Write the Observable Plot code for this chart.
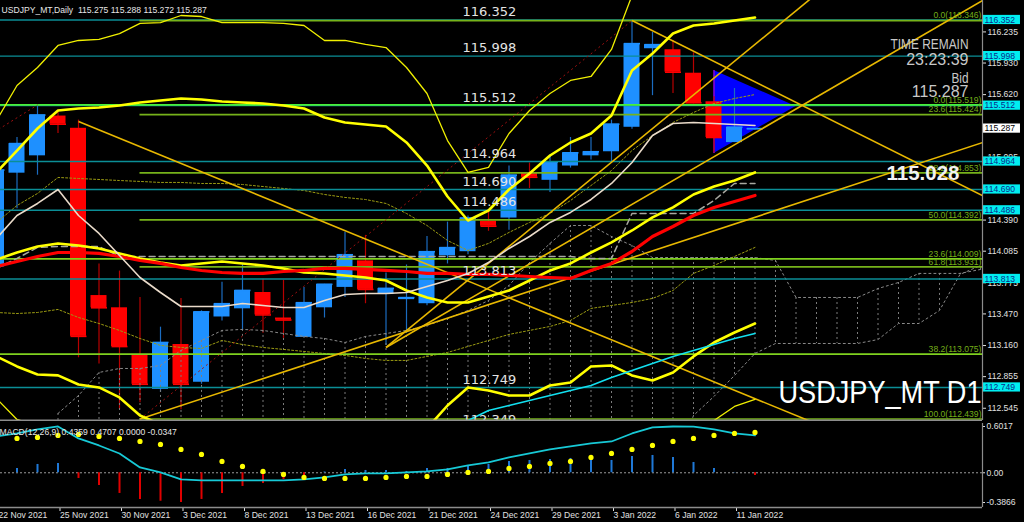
<!DOCTYPE html>
<html><head><meta charset="utf-8">
<script src="https://cdn.jsdelivr.net/npm/d3@7"></script>
<script src="https://cdn.jsdelivr.net/npm/@observablehq/plot@0.6"></script>
<style>
html,body{margin:0;padding:0;background:#000;width:1024px;height:522px;overflow:hidden;}
#wrap{position:relative;width:1024px;height:522px;background:#000;}
#wrap svg{position:absolute;left:0;display:block;}
</style></head><body><div id="wrap"></div>
<script>
// ---------- DATA ----------
const tickIdx = [0,3,6,9,12,15,18,21,24,27,30,33,36];
const tickLabels = ["22 Nov 2021","25 Nov 2021","30 Nov 2021","3 Dec 2021","8 Dec 2021","13 Dec 2021","16 Dec 2021","21 Dec 2021","24 Dec 2021","29 Dec 2021","3 Jan 2022","6 Jan 2022","11 Jan 2022"];

const open  = [113.93,114.85,115.02,115.41,115.29,113.65,113.53,113.07,112.73,113.17,112.80,113.44,113.52,113.68,113.43,113.24,113.53,113.73,113.99,113.66,113.61,113.57,114.04,114.08,114.38,114.41,114.85,114.78,114.92,115.02,115.06,115.30,116.07,116.06,115.83,115.55,115.15,115.275];
const high  = [114.95,115.20,115.51,115.46,115.37,113.96,113.89,113.63,113.34,113.62,113.50,113.78,113.96,113.81,113.80,113.73,113.76,114.27,114.24,113.87,113.95,114.23,114.37,114.43,114.49,114.92,114.95,115.03,115.20,115.20,115.37,116.35,116.23,116.15,116.03,115.60,115.68,115.288];
const low   = [113.85,114.50,114.83,115.24,113.04,112.98,112.53,112.60,112.70,112.53,112.78,113.40,113.31,113.28,113.23,113.24,113.43,113.63,113.57,113.16,113.28,113.55,113.96,114.05,114.28,114.29,114.70,114.66,114.90,114.98,114.96,115.28,115.61,115.63,115.53,115.05,115.15,115.272];
const close = [114.88,115.14,115.42,115.33,113.25,113.53,113.15,112.78,113.19,112.78,113.49,113.57,113.70,113.46,113.41,113.58,113.76,114.05,113.71,113.72,113.63,114.08,114.12,114.41,114.33,114.83,114.81,114.96,115.05,115.06,115.33,116.12,116.11,115.84,115.54,115.20,115.30,115.287];

// Bollinger (20,2)
const bbUpper = [114.857,115.072,115.288,115.465,115.484,115.494,115.514,115.543,115.563,115.582,115.572,115.553,115.543,115.533,115.514,115.484,115.396,115.347,115.327,115.308,115.151,114.925,114.621,114.386,114.484,114.690,114.847,115.023,115.151,115.239,115.416,115.857,116.023,116.219,116.298,116.318,116.347,116.376];
const bbMiddle = [114.004,114.072,114.131,114.161,114.141,114.112,114.063,114.014,113.974,113.945,113.965,113.984,113.965,113.945,113.916,113.876,113.867,113.847,113.827,113.798,113.700,113.631,113.582,113.582,113.641,113.700,113.798,113.896,113.965,114.072,114.171,114.288,114.416,114.514,114.641,114.719,114.778,114.857];
const bbLower = [113.053,112.955,112.876,112.867,112.778,112.749,112.651,112.474,112.386,112.308,112.357,112.416,112.386,112.357,112.318,112.268,112.337,112.347,112.327,112.288,112.249,112.347,112.572,112.749,112.719,112.670,112.670,112.768,112.798,112.955,112.965,112.867,112.818,112.896,113.053,113.190,113.288,113.376];
// Bollinger (20,3)
const bb3Upper = [115.367,115.710,115.886,116.102,116.151,116.161,116.219,116.318,116.327,116.396,116.386,116.327,116.327,116.327,116.318,116.298,116.151,116.151,116.112,116.082,115.886,115.631,115.170,114.857,114.906,115.239,115.465,115.631,115.759,115.798,116.063,116.592,116.739,116.886,116.955,117.014,116.994,117.082];
const bb3Lower = [112.641,112.435,112.376,112.220,112.131,112.063,111.906,111.710,111.621,111.494,111.543,111.641,111.602,111.563,111.514,111.455,111.582,111.543,111.543,111.514,111.514,111.631,111.994,112.308,112.376,112.161,112.131,112.161,112.170,112.347,112.278,111.984,112.092,112.141,112.327,112.425,112.563,112.631];
// moving averages
const maRed = [113.935,113.984,114.033,114.072,114.072,114.063,114.033,113.994,113.965,113.925,113.896,113.876,113.867,113.867,113.886,113.896,113.916,113.916,113.906,113.896,113.886,113.867,113.867,113.857,113.857,113.847,113.837,113.827,113.818,113.896,113.965,114.082,114.229,114.327,114.435,114.514,114.572,114.631];
const maBeige = [114.210,114.435,114.553,114.690,114.435,114.259,114.043,113.827,113.680,113.543,113.543,113.543,113.572,113.553,113.533,113.533,113.602,113.661,113.670,113.670,113.680,113.739,113.798,113.867,113.974,114.112,114.229,114.367,114.465,114.592,114.749,114.955,115.219,115.337,115.347,115.337,115.327,115.318];
const kijun = [113.916,114.014,114.122,114.131,114.131,114.131,114.033,114.033,114.033,114.033,114.033,114.033,114.033,114.033,114.033,114.033,114.033,114.033,114.033,114.033,114.033,114.033,114.033,114.033,114.033,114.033,114.033,114.033,114.033,114.014,114.014,114.455,114.455,114.455,114.455,114.582,114.749,114.749];
const envUpper = [114.367,114.533,114.651,114.808,114.798,114.788,114.778,114.769,114.759,114.759,114.749,114.749,114.739,114.719,114.700,114.680,114.641,114.612,114.592,114.553,114.455,114.337,114.190,114.092,114.161,114.269,114.367,114.455,114.582,114.729,114.876,115.072,115.219,115.347,115.445,115.533,115.582,115.621];
const envLower = [113.484,113.474,113.484,113.514,113.435,113.376,113.308,113.229,113.161,113.141,113.131,113.210,113.170,113.141,113.122,113.102,113.082,113.063,113.033,113.014,113.014,113.053,113.092,113.151,113.210,113.269,113.308,113.347,113.406,113.524,113.553,113.582,113.622,113.700,113.867,113.945,114.033,114.122];
const cyanStart = 21;
const cyanLine = [112.268,112.347,112.425,112.523,112.572,112.621,112.670,112.719,112.768,112.847,112.916,112.984,113.053,113.112,113.170,113.229,113.278];
// Ichimoku cloud (bars 3..48)
const cloudStart = 3;
const spanTop = [112.494,112.670,112.896,112.935,112.935,112.965,113.112,113.210,113.308,113.318,113.308,113.278,113.249,113.229,113.190,113.249,113.278,113.308,113.357,113.425,113.504,113.602,113.749,113.974,114.161,114.337,114.337,114.229,114.141,114.023,114.023,114.023,114.023,114.023,114.023,113.994,113.631,113.631,113.631,113.631,113.719,113.778,113.867,113.867,113.867,113.906];
const spanBottom = [111.9,111.9,111.9,111.9,111.9,111.9,111.9,111.9,111.9,111.9,111.9,111.9,111.9,111.9,111.9,111.9,111.9,111.9,111.9,111.9,111.9,111.9,111.9,111.9,111.9,111.9,111.9,111.9,111.9,111.9,111.9,112.474,112.661,112.867,113.082,113.180,113.180,113.180,113.180,113.180,113.219,113.376,113.376,113.504,113.857,113.945];

// horizontal levels
const levels = [116.352,115.998,115.512,114.964,114.690,114.486,113.813,112.749,112.349];
const tealLines = [116.352,115.998,115.512,114.964,114.690,114.486,113.813,112.749];
const fibA = [0.0,23.6,38.2,50.0,61.8,100.0];
const fibAPrice = [116.346,115.424,114.853,114.392,113.931,112.439];
const fibB = [0.0,23.6,38.2];
const fibBPrice = [115.519,114.009,113.075];
// visible price-scale ticks (115.315 and 114.700 sit fully under price boxes)
const priceTicks = [116.235,115.930,115.620,115.005,114.390,114.085,113.775,113.470,113.160,112.855,112.545];
const bidPrice = 115.287;

// trend lines [bar, price]
const trendFrom = [[4,115.357],[31,116.347],[7,112.439],[19,113.141],[19,113.141]];
const trendTo   = [[41,112.31],[48.2,114.62],[48.1,115.15],[40.5,116.69],[48.1,116.543]];
const fibAnchorFrom = [[7,112.439],[-3,114.89]];
const fibAnchorTo   = [[31,116.346],[2,115.519]];
// triangle
const triBars = [35,39];
const triLow  = [115.043,115.504];
const triHigh = [115.857,115.504];

// MACD panel
const macdHist = [0.08,0.056,0.108,0.121,-0.074,-0.165,-0.269,-0.347,-0.37,-0.3866,-0.347,-0.269,-0.178,-0.139,-0.087,-0.061,0.01,0.043,0.030,0.030,0.017,0.056,0.056,0.095,0.108,0.147,0.160,0.173,0.186,0.173,0.160,0.212,0.225,0.199,0.134,0.056,0.004,-0.0347];
const macdMain = [0.472,0.511,0.563,0.602,0.446,0.355,0.251,0.069,0.004,-0.087,-0.100,-0.100,-0.100,-0.100,-0.100,-0.087,-0.061,-0.022,-0.009,-0.009,0.004,0.017,0.043,0.095,0.134,0.199,0.251,0.303,0.342,0.381,0.407,0.511,0.589,0.6017,0.600,0.563,0.511,0.485];
const macdSignal = [null,0.446,0.459,0.485,0.498,0.472,0.446,0.407,0.368,0.303,0.238,0.147,0.082,0.017,-0.022,-0.061,-0.074,-0.074,-0.074,-0.061,-0.048,-0.048,-0.022,0.004,0.017,0.056,0.082,0.121,0.147,0.199,0.251,0.303,0.355,0.407,0.446,0.485,0.511,0.524];
const macdTicks = [0.6017,0,-0.3866];

// ---------- BUILD ----------
const xDom = [4/20.5, 986/20.5];
const yDom = [112.425, 116.543];
const PX = 102;
const F = "Liberation Sans, Arial, sans-serif";
const FD = "DejaVu Sans, Verdana, sans-serif";

const bars = open.map((o,i)=>({i,o,h:high[i],l:low[i],c:close[i],up:close[i]>=open[i]}));
const ser = (arr, start=0) => arr.map((v,k)=>({x:start+k, y:v})).filter(d=>d.y!=null);
const cloud = spanTop.map((t,k)=>({x:cloudStart+k, t, b:spanBottom[k]}));
const trends = trendFrom.map((f,k)=>({x1:f[0],y1:f[1],x2:trendTo[k][0],y2:trendTo[k][1]}));
const anchors = fibAnchorFrom.map((f,k)=>({x1:f[0],y1:f[1],x2:fibAnchorTo[k][0],y2:fibAnchorTo[k][1]}));
const tri = triBars.map((x,k)=>({x, y1:triLow[k], y2:triHigh[k]}));
const fibAData = fibA.map((l,k)=>({l, p:fibAPrice[k]}));
const fibBData = fibB.map((l,k)=>({l, p:fibBPrice[k]}));
const boxes = tealLines.map(v=>({v, bg:"#00eef0", fg:"#0b2a8a"})).concat([{v:bidPrice,bg:"#ffffff",fg:"#000000"}]);
const clip = true;

const main = Plot.plot({
  width:1024, height:421, marginLeft:0, marginRight:42, marginTop:0, marginBottom:1,
  x:{domain:xDom, axis:null}, y:{domain:yDom, axis:null},
  style:{background:"#000", color:"#ddd", fontFamily:F, overflow:"hidden"},
  marks:[
    Plot.areaY(tri,{x:"x", y1:"y1", y2:"y2", fill:"#0000ff", curve:"linear", clip}),
    Plot.ruleX([triBars[0]],{x:d=>d, y1:triLow[0], y2:triHigh[0], stroke:"#b000c8", strokeWidth:1.2}),
    Plot.ruleX(bars,{x:"i", y1:"l", y2:"h", stroke:d=>d.up?"#1b6cc0":"#b80000", strokeWidth:1.2, clip}),
    Plot.rect(bars,{x1:d=>d.i-0.39, x2:d=>d.i+0.39, y1:d=>Math.min(d.o,d.c), y2:d=>Math.max(d.o,d.c), fill:d=>d.up?"#1e90ff":"#ff0000", clip}),
    Plot.link(bars,{x1:d=>d.i-0.39, x2:d=>d.i+0.39, y1:"c", y2:"c", stroke:d=>d.up?"#1e90ff":"#ff0000", strokeWidth:1.6, clip}),
    Plot.ruleX(cloud,{x:"x", y1:"t", y2:"b", stroke:"#7c7c7c", strokeDasharray:"2,3", strokeWidth:1, clip}),
    Plot.line(cloud,{x:"x", y:"t", stroke:"#8a8a8a", strokeDasharray:"2,3", strokeWidth:1, clip}),
    Plot.line(cloud,{x:"x", y:"b", stroke:"#8a8a8a", strokeDasharray:"2,3", strokeWidth:1, clip}),
    Plot.line(ser(envUpper),{x:"x", y:"y", stroke:"#9b9b12", strokeDasharray:"2,2", strokeWidth:1, clip}),
    Plot.line(ser(envLower),{x:"x", y:"y", stroke:"#9b9b12", strokeDasharray:"2,2", strokeWidth:1, clip}),
    Plot.ruleY(tealLines,{y:d=>d, x1:xDom[0], x2:xDom[1], stroke:"#0b8e96", strokeWidth:1.4}),
    Plot.ruleY(fibAData,{y:"p", x1:7, x2:xDom[1], stroke:"#76b21a", strokeWidth:1.6}),
    Plot.ruleY(fibBData,{y:"p", x1:xDom[0], x2:xDom[1], stroke:d=>d.l===0?"#48f03a":"#7fd11f", strokeWidth:1.8}),
    Plot.line(ser(kijun),{x:"x", y:"y", stroke:"#a8a8a0", strokeDasharray:"6,4", strokeWidth:1.5, clip}),
    Plot.link(anchors,{x1:"x1",y1:"y1",x2:"x2",y2:"y2", stroke:"#a01010", strokeDasharray:"2,3", strokeWidth:1, clip}),
    Plot.link(trends,{x1:"x1",y1:"y1",x2:"x2",y2:"y2", stroke:"#e8b800", strokeWidth:1.6, clip}),
    Plot.line(ser(bb3Upper),{x:"x", y:"y", stroke:"#f0f000", strokeWidth:1.3, clip}),
    Plot.line(ser(bb3Lower),{x:"x", y:"y", stroke:"#f0f000", strokeWidth:1.3, clip}),
    Plot.line(ser(bbUpper),{x:"x", y:"y", stroke:"#ffff00", strokeWidth:2.6, clip}),
    Plot.line(ser(bbMiddle),{x:"x", y:"y", stroke:"#ffff00", strokeWidth:2.6, clip}),
    Plot.line(ser(bbLower),{x:"x", y:"y", stroke:"#ffff00", strokeWidth:2.6, clip}),
    Plot.line(ser(maRed),{x:"x", y:"y", stroke:"#ff0000", strokeWidth:3.2, clip}),
    Plot.line(ser(cyanLine,cyanStart),{x:"x", y:"y", stroke:"#12e0f0", strokeWidth:1.6, clip}),
    Plot.line(ser(maBeige),{x:"x", y:"y", stroke:"#eadbca", strokeWidth:1.6, clip}),
    Plot.text(levels,{x:()=>22.73, y:d=>d, text:d=>d.toFixed(3), textAnchor:"start", dy:-8, fill:"#e4e4e4", fontSize:13, fontFamily:FD, clip}),
    Plot.text(fibAData.concat(fibBData),{x:()=>xDom[1], y:"p", text:d=>`${d.l.toFixed(1)}(${d.p.toFixed(3)})`, textAnchor:"end", dx:-1, dy:-5, fill:"#74ae18", fontSize:8.6, fontFamily:F}),
    Plot.text(["USDJPY_MT,Daily  115.275 115.288 115.272 115.287"],{frameAnchor:"top-left", dx:1, dy:6, textAnchor:"start", fill:"#e6e6e6", fontSize:8.6, fontFamily:F}),
    Plot.text(["TIME REMAIN"],{frameAnchor:"top-right", dx:-14, dy:38, textAnchor:"end", fill:"#c8c8c8", fontSize:14.5, fontFamily:F}),
    Plot.text(["23:23:39"],{frameAnchor:"top-right", dx:-14, dy:53, textAnchor:"end", fill:"#c8c8c8", fontSize:16, fontFamily:F}),
    Plot.text(["Bid"],{frameAnchor:"top-right", dx:-14, dy:71, textAnchor:"end", fill:"#c8c8c8", fontSize:15.5, fontFamily:F}),
    Plot.text(["115.287"],{frameAnchor:"top-right", dx:-14, dy:85, textAnchor:"end", fill:"#c8c8c8", fontSize:16, fontFamily:F}),
    Plot.text(["115.028"],{frameAnchor:"top-right", dx:-23, dy:165, textAnchor:"end", fill:"#f2f2f2", fontSize:20.5, fontWeight:"bold", fontFamily:F}),
    Plot.text(["USDJPY_MT D1"],{frameAnchor:"bottom-right", dx:-1, dy:-18, textAnchor:"end", fill:"#ffffff", fontSize:31, fontFamily:F}),
    Plot.axisY(priceTicks,{anchor:"right", tickSize:3, tickPadding:2, tickFormat:d=>d.toFixed(3), color:"#e0e0e0", fontSize:8.6, fontFamily:F}),
    Plot.rect(boxes,{x1:48.146, x2:49.95, y1:d=>d.v-4.6/PX, y2:d=>d.v+4.6/PX, fill:"bg"}),
    Plot.text(boxes,{x:()=>48.2, y:"v", text:d=>d.v.toFixed(3), textAnchor:"start", fill:"fg", fontSize:8.6, fontFamily:F}),
    Plot.ruleX([xDom[1]],{x:d=>d, stroke:"#8c8c8c", strokeWidth:1.2}),
    Plot.ruleY([yDom[0]],{y:d=>d, stroke:"#8c8c8c", strokeWidth:2})
  ]
});
main.style.top = "0px";

const histData = macdHist.map((h,i)=>({i,h}));
const sigData = macdSignal.map((v,i)=>({i,v})).filter(d=>d.v!=null);
const macdDom = [-0.4516, 0.6407];
const macd = Plot.plot({
  width:1024, height:101, marginLeft:0, marginRight:42, marginTop:2, marginBottom:15,
  x:{domain:xDom, axis:null}, y:{domain:macdDom, axis:null},
  style:{background:"#000", color:"#ddd", fontFamily:F, overflow:"hidden"},
  marks:[
    Plot.ruleY([0],{y:d=>d, stroke:"#9a9a9a", strokeDasharray:"2,2", strokeWidth:1}),
    Plot.ruleX(histData,{x:"i", y1:0, y2:"h", stroke:d=>d.h>=0?"#1f78d6":"#e00000", strokeWidth:2, clip}),
    Plot.line(ser(macdMain),{x:"x", y:"y", stroke:"#17c9d6", strokeWidth:1.8, clip}),
    Plot.dot(sigData,{x:"i", y:"v", r:2.6, fill:"#ffff00", stroke:null, clip}),
    Plot.text(["MACD(12,26,9) 0.4359 0.4707 0.0000 -0.0347"],{frameAnchor:"top-left", dx:-1, dy:5, textAnchor:"start", fill:"#e6e6e6", fontSize:8.6, fontFamily:F}),
    Plot.axisY(macdTicks,{anchor:"right", tickSize:2, tickPadding:2, tickFormat:d=>d===0?"0.00":String(d), color:"#e0e0e0", fontSize:8.6, fontFamily:F}),
    Plot.axisX(tickIdx,{anchor:"bottom", tickSize:4, tickPadding:0, tickFormat:d=>tickLabels[tickIdx.indexOf(d)], textAnchor:"start", dx:2, color:"#e0e0e0", fontSize:8.6, fontFamily:F}),
    Plot.ruleX([xDom[1]],{x:d=>d, stroke:"#8c8c8c", strokeWidth:1.2}),
    Plot.ruleY([macdDom[0]],{y:d=>d, stroke:"#8c8c8c", strokeWidth:1.5})
  ]
});
macd.style.top = "421px";

const wrap = document.getElementById("wrap");
wrap.appendChild(main);
wrap.appendChild(macd);

// narrow-looking fonts of the terminal: fit texts to their measured widths
const fit = {"USDJPY_MT D1":203, "TIME REMAIN":78, "Bid":17};
main.querySelectorAll("text").forEach(t => {
  const w = fit[t.textContent];
  if (w) { t.setAttribute("textLength", w); t.setAttribute("lengthAdjust", "spacingAndGlyphs"); }
});
</script></body></html>
